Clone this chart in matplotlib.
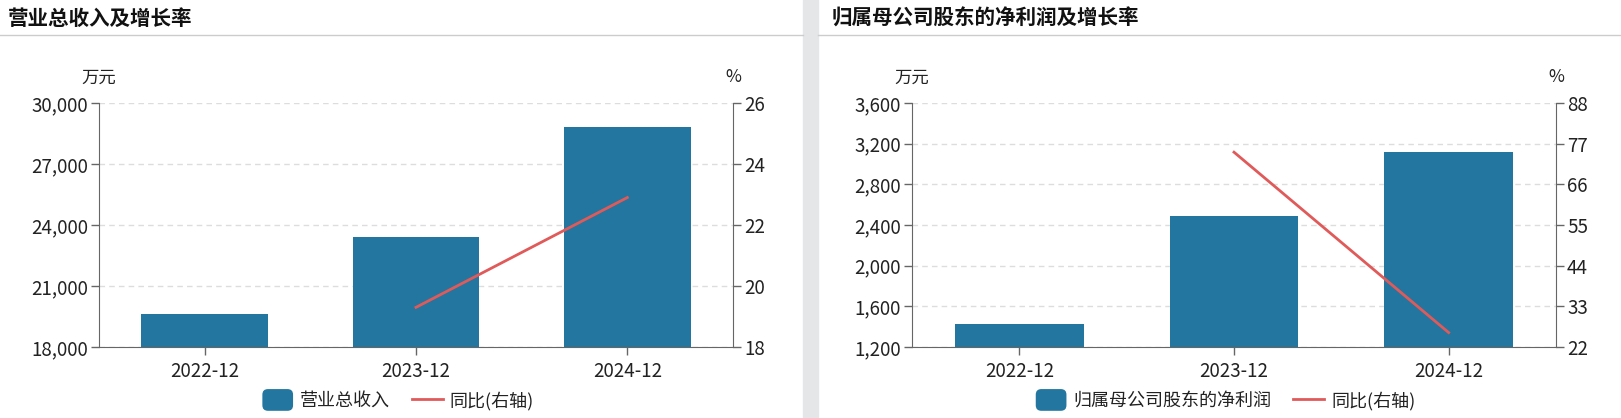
import numpy as np
import matplotlib.pyplot as plt
from matplotlib.patches import Rectangle, FancyBboxPatch
from matplotlib.lines import Line2D
from matplotlib.legend_handler import HandlerPatch

plt.rcParams['font.family'] = ['Noto Sans CJK SC', 'DejaVu Sans']

periods = ["2022-12", "2023-12", "2024-12"]

revenue = [19640, 23400, 28820]          # 万元
revenue_yoy = [np.nan, 19.3, 22.9]       # %

net_profit = [1422, 2490, 3116]          # 万元
net_profit_yoy = [np.nan, 74.7, 25.9]    # %

BAR = '#22769f'
RED = '#e05a5a'
AXC = '#666666'
TXT = '#222222'
W, H = 1621, 418


class RoundBox(HandlerPatch):
    def create_artists(self, legend, orig, xd, yd, width, height, fontsize, trans):
        p = FancyBboxPatch((-xd, -yd - 2), width, height + 4,
                           boxstyle="round,pad=0,rounding_size=4",
                           facecolor=BAR, edgecolor='none', transform=trans)
        return [p]


fig = plt.figure(figsize=(W / 100, H / 100), dpi=100)

# gray divider band and title separator lines
fig.patches.append(Rectangle((803 / W, 0), 15 / W, 1, transform=fig.transFigure,
                             color='#e5e6e8', zorder=0))
fig.add_artist(Line2D([0, 803 / W], [1 - 35 / H] * 2, color='#cccccc', lw=1))
fig.add_artist(Line2D([818 / W, 1], [1 - 35 / H] * 2, color='#cccccc', lw=1))


def panel(left, right, title, title_x, bars, yoy, ylim, yticks, y2lim, y2ticks,
          bar_label, leg_x):
    ax = fig.add_axes([left / W, 1 - 347 / H, (right - left) / W, 244 / H])
    x = np.arange(len(periods))
    ax.bar(x, bars, width=0.6, color=BAR, zorder=2, label=bar_label)
    ax.set_xlim(-0.5, len(periods) - 0.5)
    ax.set_ylim(*ylim)
    ax.set_yticks(yticks)
    ax.set_yticklabels([f"{v:,}" for v in yticks])
    ax.set_xticks(x)
    ax.set_xticklabels(periods)
    ax.grid(axis='y', color='#dddddd', ls=(0, (4, 3)), lw=1, zorder=0)
    ax.spines['top'].set_visible(False)
    ax.spines['right'].set_visible(False)
    for s in ('left', 'bottom'):
        ax.spines[s].set_color(AXC)
    ax.tick_params(axis='both', colors=AXC, labelcolor=TXT, labelsize=13.5,
                   length=6, width=1, pad=2)
    ax.tick_params(axis='x', pad=4)

    ax2 = ax.twinx()
    ax2.plot(x, yoy, color=RED, lw=2, label="同比(右轴)", zorder=3)
    ax2.set_ylim(*y2lim)
    ax2.set_yticks(y2ticks)
    for s in ('top', 'left', 'bottom'):
        ax2.spines[s].set_visible(False)
    ax2.spines['right'].set_color(AXC)
    ax2.tick_params(axis='y', colors=AXC, labelcolor=TXT, labelsize=13.5,
                    length=6, width=1, pad=2)

    ax.text(0, 1.105, "万元", transform=ax.transAxes, ha='center', va='center',
            fontsize=12.5, color=TXT)
    ax.text(1, 1.105, "%", transform=ax.transAxes, ha='center', va='center',
            fontsize=12.5, color=TXT)
    fig.text(title_x / W, 1 - 18 / H, title, fontsize=14.8, fontweight='bold',
             ha='left', va='center', color='#111111')

    h1, l1 = ax.get_legend_handles_labels()
    h2, l2 = ax2.get_legend_handles_labels()
    ax.legend(h1 + h2, l1 + l2, loc='center', bbox_to_anchor=(leg_x, -0.22),
              ncol=2, frameon=False, fontsize=13, handlelength=1.7,
              handleheight=1.0, columnspacing=1.2, handletextpad=0.4,
              labelcolor=TXT, handler_map={type(h1[0]): RoundBox()})
    return ax


panel(99, 733, "营业总收入及增长率", 8, revenue, revenue_yoy,
      (18000, 30000), [18000, 21000, 24000, 27000, 30000],
      (18, 26), [18, 20, 22, 24, 26], "营业总收入", 0.472)
panel(912, 1556, "归属母公司股东的净利润及增长率", 832, net_profit, net_profit_yoy,
      (1200, 3600), [1200, 1600, 2000, 2400, 2800, 3200, 3600],
      (22, 88), [22, 33, 44, 55, 66, 77, 88], "归属母公司股东的净利润", 0.487)

fig.savefig("out.png", dpi=100)
